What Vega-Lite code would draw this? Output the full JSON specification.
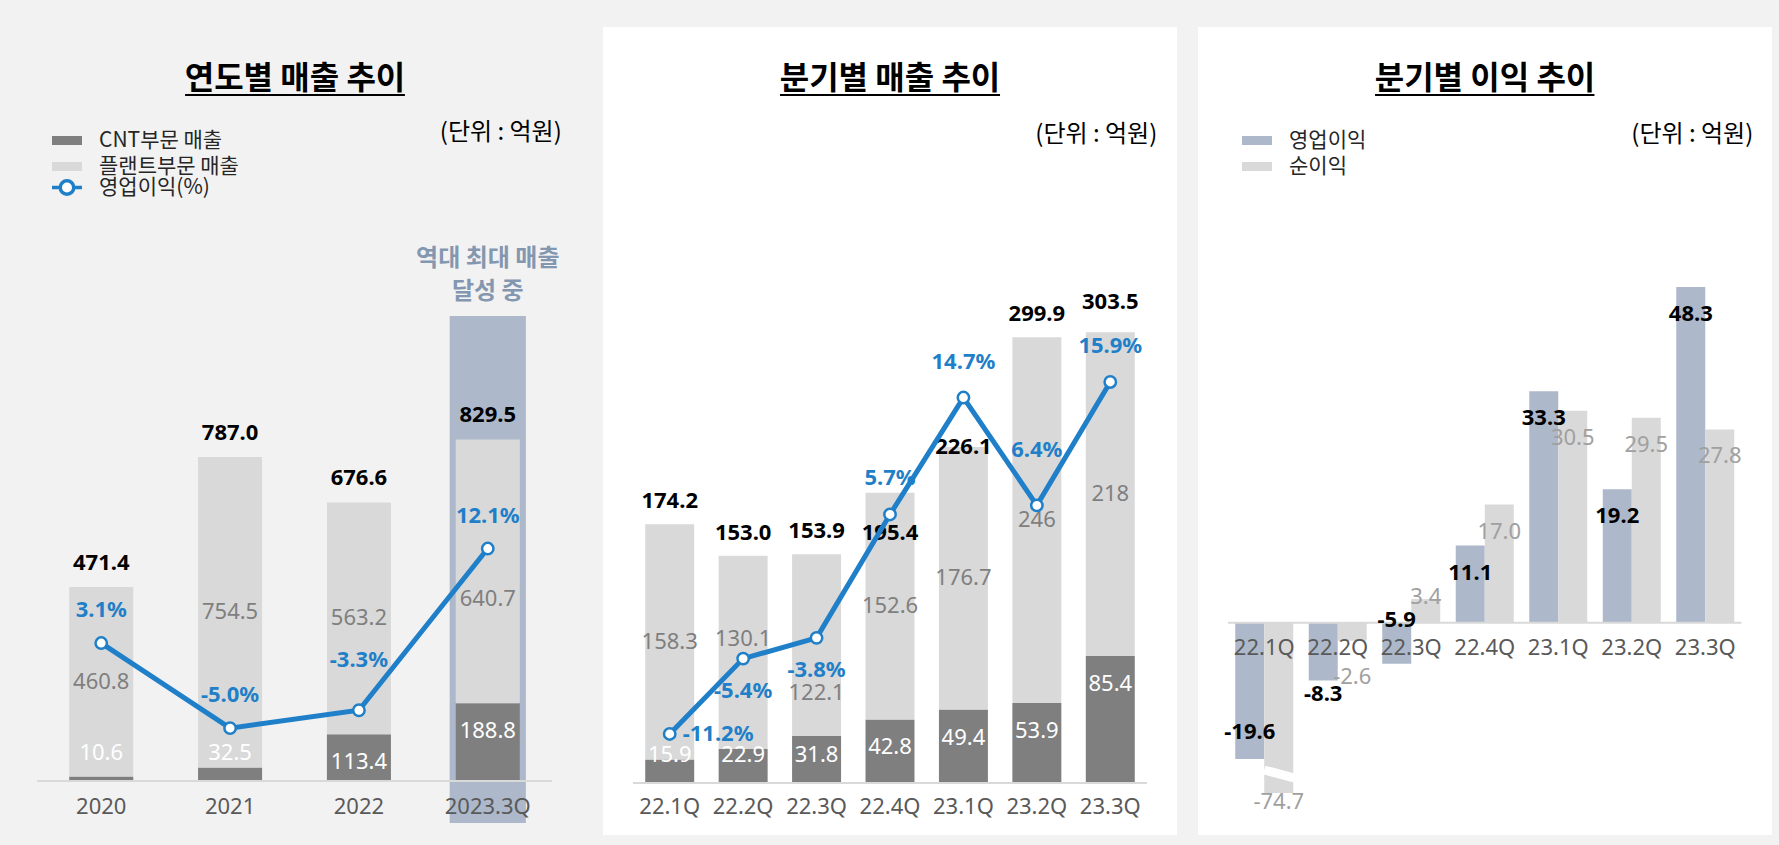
{
"$schema": "https://vega.github.io/schema/vega-lite/v6.json",
"background": "#f2f2f2",
"padding": {"left": 8, "top": 27, "right": 7, "bottom": 10},
"spacing": 21,
"datasets": {
 "annual": [
  {"x":"2020","seg":"CNT부문 매출","v":10.6},{"x":"2020","seg":"플랜트부문 매출","v":460.8},
  {"x":"2021","seg":"CNT부문 매출","v":32.5},{"x":"2021","seg":"플랜트부문 매출","v":754.5},
  {"x":"2022","seg":"CNT부문 매출","v":113.4},{"x":"2022","seg":"플랜트부문 매출","v":563.2},
  {"x":"2023.3Q","seg":"CNT부문 매출","v":188.8},{"x":"2023.3Q","seg":"플랜트부문 매출","v":640.7}
 ],
 "atot": [
  {"x":"2020","total":471.4,"pct":0.031},
  {"x":"2021","total":787.0,"pct":-0.05},
  {"x":"2022","total":676.6,"pct":-0.033},
  {"x":"2023.3Q","total":829.5,"pct":0.121,"note":"역대 최대 매출\n달성 중"}
 ],
 "quarter": [
  {"q":"22.1Q","seg":"CNT부문 매출","v":15.9},{"q":"22.1Q","seg":"플랜트부문 매출","v":158.3},
  {"q":"22.2Q","seg":"CNT부문 매출","v":22.9},{"q":"22.2Q","seg":"플랜트부문 매출","v":130.1},
  {"q":"22.3Q","seg":"CNT부문 매출","v":31.8},{"q":"22.3Q","seg":"플랜트부문 매출","v":122.1},
  {"q":"22.4Q","seg":"CNT부문 매출","v":42.8},{"q":"22.4Q","seg":"플랜트부문 매출","v":152.6},
  {"q":"23.1Q","seg":"CNT부문 매출","v":49.4},{"q":"23.1Q","seg":"플랜트부문 매출","v":176.7},
  {"q":"23.2Q","seg":"CNT부문 매출","v":53.9},{"q":"23.2Q","seg":"플랜트부문 매출","v":246},
  {"q":"23.3Q","seg":"CNT부문 매출","v":85.4},{"q":"23.3Q","seg":"플랜트부문 매출","v":218}
 ],
 "qtot": [
  {"q":"22.1Q","total":174.2,"pct":-0.112},
  {"q":"22.2Q","total":153.0,"pct":-0.054},
  {"q":"22.3Q","total":153.9,"pct":-0.038},
  {"q":"22.4Q","total":195.4,"pct":0.057},
  {"q":"23.1Q","total":226.1,"pct":0.147},
  {"q":"23.2Q","total":299.9,"pct":0.064},
  {"q":"23.3Q","total":303.5,"pct":0.159}
 ],
 "profit": [
  {"q":"22.1Q","type":"영업이익","v":-19.6},{"q":"22.1Q","type":"순이익","v":-74.7},
  {"q":"22.2Q","type":"영업이익","v":-8.3},{"q":"22.2Q","type":"순이익","v":-2.6},
  {"q":"22.3Q","type":"영업이익","v":-5.9},{"q":"22.3Q","type":"순이익","v":3.4},
  {"q":"22.4Q","type":"영업이익","v":11.1},{"q":"22.4Q","type":"순이익","v":17.0},
  {"q":"23.1Q","type":"영업이익","v":33.3},{"q":"23.1Q","type":"순이익","v":30.5},
  {"q":"23.2Q","type":"영업이익","v":19.2},{"q":"23.2Q","type":"순이익","v":29.5},
  {"q":"23.3Q","type":"영업이익","v":48.3},{"q":"23.3Q","type":"순이익","v":27.8}
 ],
 "unit": [{"t":"(단위 : 억원)"}]
},
"hconcat": [
 {
  "width": 574, "height": 808,
  "title": {"text": "연도별 매출 추이"},
  "layer": [
   {"layer": [
    {"data":{"name":"atot"},"transform":[{"filter":"datum.x == '2023.3Q'"}],
     "mark":{"type":"bar","width":{"band":1.19},"color":"#adb9ca"},
     "encoding":{
      "x":{"field":"x","type":"nominal","scale":{"domain":["2020","2021","2022","2023.3Q"],"range":[29,544],"paddingInner":0.503,"paddingOuter":0.25},"axis":null},
      "y":{"datum":1129.5,"type":"quantitative","scale":{"domain":[-131.2,1831.4],"nice":false,"zero":false},"axis":null},
      "y2":{"datum":-102}}},
    {"data":{"name":"annual"},
     "mark":{"type":"bar"},
     "encoding":{
      "x":{"field":"x","type":"nominal","scale":{"domain":["2020","2021","2022","2023.3Q"],"range":[29,544],"paddingInner":0.503,"paddingOuter":0.25},"axis":null},
      "y":{"field":"v","type":"quantitative","stack":"zero","scale":{"domain":[-131.2,1831.4],"nice":false,"zero":false},"axis":null},
      "color":{"field":"seg","type":"nominal","scale":{"domain":["CNT부문 매출","플랜트부문 매출"],"range":["#7f7f7f","#d9d9d9"]},
        "legend":{"orient":"none","legendX":48.5,"legendY":103,"title":null,"symbolType":"M-2,-0.6H2V0.6H-2Z"}},
      "order":{"field":"seg","type":"nominal","sort":"ascending"}}},
    {"data":{"name":"unit"},
     "mark":{"type":"rule","strokeWidth":2,"color":"#d9d9d9","xOffset":-64.2,"x2Offset":64.2},
     "encoding":{
      "x":{"datum":"2020","type":"nominal","scale":{"domain":["2020","2021","2022","2023.3Q"],"range":[29,544],"paddingInner":0.503,"paddingOuter":0.25},"axis":null},
      "x2":{"datum":"2023.3Q"},
      "y":{"datum":0,"type":"quantitative","scale":{"domain":[-131.2,1831.4],"nice":false,"zero":false},"axis":null}}},
    {"data":{"name":"atot"},
     "mark":{"type":"text","fontSize":22,"color":"#595959","baseline":"middle","dy":26},
     "encoding":{
      "x":{"field":"x","type":"nominal","scale":{"domain":["2020","2021","2022","2023.3Q"],"range":[29,544],"paddingInner":0.503,"paddingOuter":0.25},"axis":null},
      "y":{"datum":0,"type":"quantitative","scale":{"domain":[-131.2,1831.4],"nice":false,"zero":false},"axis":null},
      "text":{"field":"x"}}},
    {"data":{"name":"atot"},"transform":[{"filter":"datum.x == '2023.3Q'"}],
     "mark":{"type":"text","fontSize":24,"fontWeight":"bold","color":"#8497b0","lineBreak":"\n","lineHeight":33,"baseline":"middle","font":"Noto Sans CJK KR"},
     "encoding":{
      "x":{"field":"x","type":"nominal","scale":{"domain":["2020","2021","2022","2023.3Q"],"range":[29,544],"paddingInner":0.503,"paddingOuter":0.25},"axis":null},
      "y":{"datum":1268,"type":"quantitative","scale":{"domain":[-131.2,1831.4],"nice":false,"zero":false},"axis":null},
      "text":{"field":"note"}}},
    {"data":{"name":"annual"},
     "mark":{"type":"text","fontSize":22,"color":"#7f7f7f","baseline":"middle"},
     "encoding":{
      "x":{"field":"x","type":"nominal","scale":{"domain":["2020","2021","2022","2023.3Q"],"range":[29,544],"paddingInner":0.503,"paddingOuter":0.25},"axis":null},
      "y":{"field":"v","type":"quantitative","stack":"zero","bandPosition":0.5,"scale":{"domain":[-131.2,1831.4],"nice":false,"zero":false},"axis":null},
      "detail":{"field":"seg"},
      "order":{"field":"seg","type":"nominal","sort":"ascending"},
      "text":{"condition":{"test":"datum.seg != '플랜트부문 매출' || datum.x == '2023.3Q'","value":""},"field":"v","type":"quantitative","format":".1~f"}}},
    {"data":{"name":"annual"},
     "mark":{"type":"text","fontSize":22,"color":"#7f7f7f","baseline":"middle","dy":28},
     "encoding":{
      "x":{"field":"x","type":"nominal","scale":{"domain":["2020","2021","2022","2023.3Q"],"range":[29,544],"paddingInner":0.503,"paddingOuter":0.25},"axis":null},
      "y":{"field":"v","type":"quantitative","stack":"zero","bandPosition":0.5,"scale":{"domain":[-131.2,1831.4],"nice":false,"zero":false},"axis":null},
      "detail":{"field":"seg"},
      "order":{"field":"seg","type":"nominal","sort":"ascending"},
      "text":{"condition":{"test":"!(datum.seg == '플랜트부문 매출' && datum.x == '2023.3Q')","value":""},"field":"v","type":"quantitative","format":".1~f"}}},
    {"data":{"name":"annual"},"transform":[{"filter":"datum.seg == 'CNT부문 매출' && datum.v < 40"}],
     "mark":{"type":"text","fontSize":22,"color":"#ffffff","baseline":"middle","dy":-28},
     "encoding":{
      "x":{"field":"x","type":"nominal","scale":{"domain":["2020","2021","2022","2023.3Q"],"range":[29,544],"paddingInner":0.503,"paddingOuter":0.25},"axis":null},
      "y":{"datum":0,"type":"quantitative","scale":{"domain":[-131.2,1831.4],"nice":false,"zero":false},"axis":null},
      "text":{"field":"v","type":"quantitative","format":".1f"}}},
    {"data":{"name":"annual"},"transform":[{"filter":"datum.seg == 'CNT부문 매출' && datum.v >= 40"}],
     "mark":{"type":"text","fontSize":22,"color":"#ffffff","baseline":"middle","dy":28},
     "encoding":{
      "x":{"field":"x","type":"nominal","scale":{"domain":["2020","2021","2022","2023.3Q"],"range":[29,544],"paddingInner":0.503,"paddingOuter":0.25},"axis":null},
      "y":{"field":"v","type":"quantitative","stack":null,"scale":{"domain":[-131.2,1831.4],"nice":false,"zero":false},"axis":null},
      "text":{"field":"v","type":"quantitative","format":".1f"}}},
    {"data":{"name":"atot"},
     "mark":{"type":"text","fontSize":22,"fontWeight":"bold","color":"#000000","baseline":"middle","dy":-24},
     "encoding":{
      "x":{"field":"x","type":"nominal","scale":{"domain":["2020","2021","2022","2023.3Q"],"range":[29,544],"paddingInner":0.503,"paddingOuter":0.25},"axis":null},
      "y":{"field":"total","type":"quantitative","scale":{"domain":[-131.2,1831.4],"nice":false,"zero":false},"axis":null},
      "text":{"field":"total","type":"quantitative","format":".1f"}}},
    {"data":{"name":"unit"},
     "mark":{"type":"text","fontSize":24,"color":"#000000","baseline":"middle","align":"right","dx":74,"font":"Noto Sans CJK KR"},
     "encoding":{
      "x":{"datum":"2023.3Q","type":"nominal","scale":{"domain":["2020","2021","2022","2023.3Q"],"range":[29,544],"paddingInner":0.503,"paddingOuter":0.25},"axis":null},
      "y":{"datum":1574,"type":"quantitative","scale":{"domain":[-131.2,1831.4],"nice":false,"zero":false},"axis":null},
      "text":{"field":"t"}}},
    {"data":{"name":"unit"},
     "mark":{"type":"rule","strokeWidth":2,"color":"#000000","xOffset":-45,"x2Offset":46},
     "encoding":{
      "x":{"datum":"2021","type":"nominal","scale":{"domain":["2020","2021","2022","2023.3Q"],"range":[29,544],"paddingInner":0.503,"paddingOuter":0.25},"axis":null},
      "x2":{"datum":"2022"},
      "y":{"datum":1666.3,"type":"quantitative","scale":{"domain":[-131.2,1831.4],"nice":false,"zero":false},"axis":null}}}
   ]},
   {"layer": [
    {"data":{"name":"atot"},
     "mark":{"type":"line","strokeWidth":5},
     "encoding":{
      "x":{"field":"x","type":"nominal","scale":{"domain":["2020","2021","2022","2023.3Q"],"range":[29,544],"paddingInner":0.503,"paddingOuter":0.25},"axis":null},
      "y":{"field":"pct","type":"quantitative","scale":{"domain":[-0.1518,0.6177],"nice":false,"zero":false},"axis":null},
      "stroke":{"datum":"영업이익(%)","type":"nominal","scale":{"domain":["영업이익(%)"],"range":["#1f7fc8"]},
        "legend":{"orient":"none","legendX":48.5,"legendY":150,"title":null,"symbolType":"M-2,0L-0.9,0M0.9,0L2,0M-0.9,0A0.9,0.9,0,1,0,0.9,0A0.9,0.9,0,1,0,-0.9,0","symbolStrokeWidth":3.5,"symbolFillColor":"#ffffff"}}}},
    {"data":{"name":"atot"},
     "mark":{"type":"point","shape":"circle","filled":true,"fill":"#ffffff","stroke":"#1f7fc8","strokeWidth":2.5,"size":130,"opacity":1},
     "encoding":{
      "x":{"field":"x","type":"nominal","scale":{"domain":["2020","2021","2022","2023.3Q"],"range":[29,544],"paddingInner":0.503,"paddingOuter":0.25},"axis":null},
      "y":{"field":"pct","type":"quantitative","scale":{"domain":[-0.1518,0.6177],"nice":false,"zero":false},"axis":null}}},
    {"data":{"name":"atot"},"transform":[{"filter":"datum.x != '2022'"}],
     "mark":{"type":"text","fontSize":22,"fontWeight":"bold","color":"#1f7fc8","baseline":"middle","dy":-33},
     "encoding":{
      "x":{"field":"x","type":"nominal","scale":{"domain":["2020","2021","2022","2023.3Q"],"range":[29,544],"paddingInner":0.503,"paddingOuter":0.25},"axis":null},
      "y":{"field":"pct","type":"quantitative","scale":{"domain":[-0.1518,0.6177],"nice":false,"zero":false},"axis":null},
      "text":{"field":"pct","type":"quantitative","format":".1%"}}},
    {"data":{"name":"atot"},"transform":[{"filter":"datum.x == '2022'"}],
     "mark":{"type":"text","fontSize":22,"fontWeight":"bold","color":"#1f7fc8","baseline":"middle","dy":-50},
     "encoding":{
      "x":{"field":"x","type":"nominal","scale":{"domain":["2020","2021","2022","2023.3Q"],"range":[29,544],"paddingInner":0.503,"paddingOuter":0.25},"axis":null},
      "y":{"field":"pct","type":"quantitative","scale":{"domain":[-0.1518,0.6177],"nice":false,"zero":false},"axis":null},
      "text":{"field":"pct","type":"quantitative","format":".1%"}}}
   ]}
  ],
  "resolve": {"scale": {"y": "independent"}}
 },
 {
  "width": 574, "height": 808,
  "view": {"fill": "#ffffff", "stroke": null},
  "title": {"text": "분기별 매출 추이"},
  "layer": [
   {"layer": [
    {"data":{"name":"quarter"},
     "mark":{"type":"bar","color":"#d9d9d9"},
     "encoding":{
      "x":{"field":"q","type":"nominal","scale":{"domain":["22.1Q","22.2Q","22.3Q","22.4Q","23.1Q","23.2Q","23.3Q"],"range":[30,544],"paddingInner":0.333,"paddingOuter":0.1665},"axis":null},
      "y":{"field":"v","type":"quantitative","stack":"zero","scale":{"domain":[-34.99,508.75],"nice":false,"zero":false},"axis":null},
      "color":{"field":"seg","type":"nominal","scale":{"domain":["CNT부문 매출","플랜트부문 매출"],"range":["#7f7f7f","#d9d9d9"]},"legend":null},
      "order":{"field":"seg","type":"nominal","sort":"ascending"}}},
    {"data":{"name":"unit"},
     "mark":{"type":"rule","strokeWidth":2,"color":"#d9d9d9","xOffset":-36.7,"x2Offset":36.7},
     "encoding":{
      "x":{"datum":"22.1Q","type":"nominal","scale":{"domain":["22.1Q","22.2Q","22.3Q","22.4Q","23.1Q","23.2Q","23.3Q"],"range":[30,544],"paddingInner":0.333,"paddingOuter":0.1665},"axis":null},
      "x2":{"datum":"23.3Q"},
      "y":{"datum":0,"type":"quantitative","scale":{"domain":[-34.99,508.75],"nice":false,"zero":false},"axis":null}}},
    {"data":{"name":"qtot"},
     "mark":{"type":"text","fontSize":22,"color":"#595959","baseline":"middle","dy":24},
     "encoding":{
      "x":{"field":"q","type":"nominal","scale":{"domain":["22.1Q","22.2Q","22.3Q","22.4Q","23.1Q","23.2Q","23.3Q"],"range":[30,544],"paddingInner":0.333,"paddingOuter":0.1665},"axis":null},
      "y":{"datum":0,"type":"quantitative","scale":{"domain":[-34.99,508.75],"nice":false,"zero":false},"axis":null},
      "text":{"field":"q"}}},
    {"data":{"name":"quarter"},
     "mark":{"type":"text","fontSize":22,"color":"#7f7f7f","baseline":"middle"},
     "encoding":{
      "x":{"field":"q","type":"nominal","scale":{"domain":["22.1Q","22.2Q","22.3Q","22.4Q","23.1Q","23.2Q","23.3Q"],"range":[30,544],"paddingInner":0.333,"paddingOuter":0.1665},"axis":null},
      "y":{"field":"v","type":"quantitative","stack":"zero","bandPosition":0.5,"scale":{"domain":[-34.99,508.75],"nice":false,"zero":false},"axis":null},
      "detail":{"field":"seg"},
      "order":{"field":"seg","type":"nominal","sort":"ascending"},
      "text":{"condition":{"test":"datum.seg != '플랜트부문 매출' || datum.q == '22.2Q' || datum.q == '22.3Q'","value":""},"field":"v","type":"quantitative","format":".1~f"}}},
    {"data":{"name":"quarter"},
     "mark":{"type":"text","fontSize":22,"color":"#7f7f7f","baseline":"middle","dy":-13},
     "encoding":{
      "x":{"field":"q","type":"nominal","scale":{"domain":["22.1Q","22.2Q","22.3Q","22.4Q","23.1Q","23.2Q","23.3Q"],"range":[30,544],"paddingInner":0.333,"paddingOuter":0.1665},"axis":null},
      "y":{"field":"v","type":"quantitative","stack":"zero","bandPosition":0.5,"scale":{"domain":[-34.99,508.75],"nice":false,"zero":false},"axis":null},
      "detail":{"field":"seg"},
      "order":{"field":"seg","type":"nominal","sort":"ascending"},
      "text":{"condition":{"test":"!(datum.seg == '플랜트부문 매출' && datum.q == '22.2Q')","value":""},"field":"v","type":"quantitative","format":".1~f"}}},
    {"data":{"name":"quarter"},
     "mark":{"type":"text","fontSize":22,"color":"#7f7f7f","baseline":"middle","dy":48},
     "encoding":{
      "x":{"field":"q","type":"nominal","scale":{"domain":["22.1Q","22.2Q","22.3Q","22.4Q","23.1Q","23.2Q","23.3Q"],"range":[30,544],"paddingInner":0.333,"paddingOuter":0.1665},"axis":null},
      "y":{"field":"v","type":"quantitative","stack":"zero","bandPosition":0.5,"scale":{"domain":[-34.99,508.75],"nice":false,"zero":false},"axis":null},
      "detail":{"field":"seg"},
      "order":{"field":"seg","type":"nominal","sort":"ascending"},
      "text":{"condition":{"test":"!(datum.seg == '플랜트부문 매출' && datum.q == '22.3Q')","value":""},"field":"v","type":"quantitative","format":".1~f"}}},
    {"data":{"name":"quarter"},"transform":[{"filter":"datum.seg == 'CNT부문 매출' && datum.v < 40"}],
     "mark":{"type":"text","fontSize":22,"color":"#ffffff","baseline":"middle","dy":-28},
     "encoding":{
      "x":{"field":"q","type":"nominal","scale":{"domain":["22.1Q","22.2Q","22.3Q","22.4Q","23.1Q","23.2Q","23.3Q"],"range":[30,544],"paddingInner":0.333,"paddingOuter":0.1665},"axis":null},
      "y":{"datum":0,"type":"quantitative","scale":{"domain":[-34.99,508.75],"nice":false,"zero":false},"axis":null},
      "text":{"field":"v","type":"quantitative","format":".1f"}}},
    {"data":{"name":"quarter"},"transform":[{"filter":"datum.seg == 'CNT부문 매출' && datum.v >= 40"}],
     "mark":{"type":"text","fontSize":22,"color":"#ffffff","baseline":"middle","dy":28},
     "encoding":{
      "x":{"field":"q","type":"nominal","scale":{"domain":["22.1Q","22.2Q","22.3Q","22.4Q","23.1Q","23.2Q","23.3Q"],"range":[30,544],"paddingInner":0.333,"paddingOuter":0.1665},"axis":null},
      "y":{"field":"v","type":"quantitative","stack":null,"scale":{"domain":[-34.99,508.75],"nice":false,"zero":false},"axis":null},
      "text":{"field":"v","type":"quantitative","format":".1f"}}},
    {"data":{"name":"qtot"},"transform":[{"filter":{"field":"q","oneOf":["22.1Q","22.2Q","22.3Q","23.2Q"]}}],
     "mark":{"type":"text","fontSize":22,"fontWeight":"bold","color":"#000000","baseline":"middle","dy":-23},
     "encoding":{
      "x":{"field":"q","type":"nominal","scale":{"domain":["22.1Q","22.2Q","22.3Q","22.4Q","23.1Q","23.2Q","23.3Q"],"range":[30,544],"paddingInner":0.333,"paddingOuter":0.1665},"axis":null},
      "y":{"field":"total","type":"quantitative","scale":{"domain":[-34.99,508.75],"nice":false,"zero":false},"axis":null},
      "text":{"field":"total","type":"quantitative","format":".1f"}}},
    {"data":{"name":"qtot"},"transform":[{"filter":"datum.q == '23.3Q'"}],
     "mark":{"type":"text","fontSize":22,"fontWeight":"bold","color":"#000000","baseline":"middle","dy":-30},
     "encoding":{
      "x":{"field":"q","type":"nominal","scale":{"domain":["22.1Q","22.2Q","22.3Q","22.4Q","23.1Q","23.2Q","23.3Q"],"range":[30,544],"paddingInner":0.333,"paddingOuter":0.1665},"axis":null},
      "y":{"field":"total","type":"quantitative","scale":{"domain":[-34.99,508.75],"nice":false,"zero":false},"axis":null},
      "text":{"field":"total","type":"quantitative","format":".1f"}}},
    {"data":{"name":"qtot"},"transform":[{"filter":"datum.q == '22.4Q'"}],
     "mark":{"type":"text","fontSize":22,"fontWeight":"bold","color":"#000000","baseline":"middle","dy":40},
     "encoding":{
      "x":{"field":"q","type":"nominal","scale":{"domain":["22.1Q","22.2Q","22.3Q","22.4Q","23.1Q","23.2Q","23.3Q"],"range":[30,544],"paddingInner":0.333,"paddingOuter":0.1665},"axis":null},
      "y":{"field":"total","type":"quantitative","scale":{"domain":[-34.99,508.75],"nice":false,"zero":false},"axis":null},
      "text":{"field":"total","type":"quantitative","format":".1f"}}},
    {"data":{"name":"qtot"},"transform":[{"filter":"datum.q == '23.1Q'"}],
     "mark":{"type":"text","fontSize":22,"fontWeight":"bold","color":"#000000","baseline":"middle","dy":0},
     "encoding":{
      "x":{"field":"q","type":"nominal","scale":{"domain":["22.1Q","22.2Q","22.3Q","22.4Q","23.1Q","23.2Q","23.3Q"],"range":[30,544],"paddingInner":0.333,"paddingOuter":0.1665},"axis":null},
      "y":{"field":"total","type":"quantitative","scale":{"domain":[-34.99,508.75],"nice":false,"zero":false},"axis":null},
      "text":{"field":"total","type":"quantitative","format":".1f"}}},
    {"data":{"name":"unit"},
     "mark":{"type":"text","fontSize":24,"color":"#000000","baseline":"middle","align":"right","dx":47,"font":"Noto Sans CJK KR"},
     "encoding":{
      "x":{"datum":"23.3Q","type":"nominal","scale":{"domain":["22.1Q","22.2Q","22.3Q","22.4Q","23.1Q","23.2Q","23.3Q"],"range":[30,544],"paddingInner":0.333,"paddingOuter":0.1665},"axis":null},
      "y":{"datum":436.1,"type":"quantitative","scale":{"domain":[-34.99,508.75],"nice":false,"zero":false},"axis":null},
      "text":{"field":"t"}}},
    {"data":{"name":"unit"},
     "mark":{"type":"rule","strokeWidth":2,"color":"#000000","xOffset":-36.6,"x2Offset":36.6},
     "encoding":{
      "x":{"datum":"22.3Q","type":"nominal","scale":{"domain":["22.1Q","22.2Q","22.3Q","22.4Q","23.1Q","23.2Q","23.3Q"],"range":[30,544],"paddingInner":0.333,"paddingOuter":0.1665},"axis":null},
      "x2":{"datum":"23.1Q"},
      "y":{"datum":463.0,"type":"quantitative","scale":{"domain":[-34.99,508.75],"nice":false,"zero":false},"axis":null}}}
   ]},
   {"layer": [
    {"data":{"name":"qtot"},
     "mark":{"type":"line","strokeWidth":5,"color":"#1f7fc8"},
     "encoding":{
      "x":{"field":"q","type":"nominal","scale":{"domain":["22.1Q","22.2Q","22.3Q","22.4Q","23.1Q","23.2Q","23.3Q"],"range":[30,544],"paddingInner":0.333,"paddingOuter":0.1665},"axis":null},
      "y":{"field":"pct","type":"quantitative","scale":{"domain":[-0.1898,0.4323],"nice":false,"zero":false},"axis":null}}},
    {"data":{"name":"qtot"},
     "mark":{"type":"point","shape":"circle","filled":true,"fill":"#ffffff","stroke":"#1f7fc8","strokeWidth":2.5,"size":130,"opacity":1},
     "encoding":{
      "x":{"field":"q","type":"nominal","scale":{"domain":["22.1Q","22.2Q","22.3Q","22.4Q","23.1Q","23.2Q","23.3Q"],"range":[30,544],"paddingInner":0.333,"paddingOuter":0.1665},"axis":null},
      "y":{"field":"pct","type":"quantitative","scale":{"domain":[-0.1898,0.4323],"nice":false,"zero":false},"axis":null}}},
    {"data":{"name":"qtot"},"transform":[{"filter":{"field":"q","oneOf":["22.4Q","23.1Q","23.3Q"]}}],
     "mark":{"type":"text","fontSize":22,"fontWeight":"bold","color":"#1f7fc8","baseline":"middle","dy":-36},
     "encoding":{
      "x":{"field":"q","type":"nominal","scale":{"domain":["22.1Q","22.2Q","22.3Q","22.4Q","23.1Q","23.2Q","23.3Q"],"range":[30,544],"paddingInner":0.333,"paddingOuter":0.1665},"axis":null},
      "y":{"field":"pct","type":"quantitative","scale":{"domain":[-0.1898,0.4323],"nice":false,"zero":false},"axis":null},
      "text":{"field":"pct","type":"quantitative","format":".1%"}}},
    {"data":{"name":"qtot"},"transform":[{"filter":"datum.q == '23.2Q'"}],
     "mark":{"type":"text","fontSize":22,"fontWeight":"bold","color":"#1f7fc8","baseline":"middle","dy":-55},
     "encoding":{
      "x":{"field":"q","type":"nominal","scale":{"domain":["22.1Q","22.2Q","22.3Q","22.4Q","23.1Q","23.2Q","23.3Q"],"range":[30,544],"paddingInner":0.333,"paddingOuter":0.1665},"axis":null},
      "y":{"field":"pct","type":"quantitative","scale":{"domain":[-0.1898,0.4323],"nice":false,"zero":false},"axis":null},
      "text":{"field":"pct","type":"quantitative","format":".1%"}}},
    {"data":{"name":"qtot"},"transform":[{"filter":{"field":"q","oneOf":["22.2Q","22.3Q"]}}],
     "mark":{"type":"text","fontSize":22,"fontWeight":"bold","color":"#1f7fc8","baseline":"middle","dy":32},
     "encoding":{
      "x":{"field":"q","type":"nominal","scale":{"domain":["22.1Q","22.2Q","22.3Q","22.4Q","23.1Q","23.2Q","23.3Q"],"range":[30,544],"paddingInner":0.333,"paddingOuter":0.1665},"axis":null},
      "y":{"field":"pct","type":"quantitative","scale":{"domain":[-0.1898,0.4323],"nice":false,"zero":false},"axis":null},
      "text":{"field":"pct","type":"quantitative","format":".1%"}}},
    {"data":{"name":"qtot"},"transform":[{"filter":"datum.q == '22.1Q'"}],
     "mark":{"type":"text","fontSize":22,"fontWeight":"bold","color":"#1f7fc8","baseline":"middle","align":"left","dx":13},
     "encoding":{
      "x":{"field":"q","type":"nominal","scale":{"domain":["22.1Q","22.2Q","22.3Q","22.4Q","23.1Q","23.2Q","23.3Q"],"range":[30,544],"paddingInner":0.333,"paddingOuter":0.1665},"axis":null},
      "y":{"field":"pct","type":"quantitative","scale":{"domain":[-0.1898,0.4323],"nice":false,"zero":false},"axis":null},
      "text":{"field":"pct","type":"quantitative","format":".1%"}}}
   ]}
  ],
  "resolve": {"scale": {"y": "independent"}}
 },
 {
  "width": 574, "height": 808,
  "view": {"fill": "#ffffff", "stroke": null},
  "title": {"text": "분기별 이익 추이"},
  "layer": [
   {"data":{"name":"profit"},
    "mark":{"type":"bar"},
    "encoding":{
     "x":{"field":"q","type":"nominal","scale":{"domain":["22.1Q","22.2Q","22.3Q","22.4Q","23.1Q","23.2Q","23.3Q"],"range":[30,543.5],"paddingInner":0.211,"paddingOuter":0.0985},"axis":null},
     "xOffset":{"field":"type","type":"nominal","scale":{"domain":["영업이익","순이익"],"paddingInner":0,"paddingOuter":0}},
     "y":{"field":"v","type":"quantitative","stack":null,"scale":{"domain":[-24.5,85.71],"range":[766,0],"clamp":true,"nice":false,"zero":false},"axis":null},
     "color":{"field":"type","type":"nominal","scale":{"domain":["영업이익","순이익"],"range":["#adb9ca","#d9d9d9"]},
       "legend":{"orient":"none","legendX":48.5,"legendY":103,"title":null,"symbolType":"M-2,-0.6H2V0.6H-2Z"}}}},
   {"data":{"name":"unit"},
    "mark":{"type":"rule","strokeWidth":9,"color":"#ffffff","xOffset":0,"x2Offset":30},
    "encoding":{
     "x":{"datum":"22.1Q","type":"nominal","scale":{"domain":["22.1Q","22.2Q","22.3Q","22.4Q","23.1Q","23.2Q","23.3Q"],"range":[30,543.5],"paddingInner":0.211,"paddingOuter":0.0985},"axis":null},
     "x2":{"datum":"22.1Q"},
     "y":{"datum":-21.19,"type":"quantitative","scale":{"domain":[-24.5,85.71],"range":[766,0],"clamp":true,"nice":false,"zero":false},"axis":null},
     "y2":{"datum":-22.34}}},
   {"data":{"name":"unit"},
    "mark":{"type":"rule","strokeWidth":2,"color":"#d9d9d9","xOffset":-36.2,"x2Offset":36.3},
    "encoding":{
     "x":{"datum":"22.1Q","type":"nominal","scale":{"domain":["22.1Q","22.2Q","22.3Q","22.4Q","23.1Q","23.2Q","23.3Q"],"range":[30,543.5],"paddingInner":0.211,"paddingOuter":0.0985},"axis":null},
     "x2":{"datum":"23.3Q"},
     "y":{"datum":0,"type":"quantitative","scale":{"domain":[-24.5,85.71],"range":[766,0],"clamp":true,"nice":false,"zero":false},"axis":null}}},
   {"data":{"name":"qtot"},
    "mark":{"type":"text","fontSize":22,"color":"#595959","baseline":"middle","dy":25},
    "encoding":{
     "x":{"field":"q","type":"nominal","scale":{"domain":["22.1Q","22.2Q","22.3Q","22.4Q","23.1Q","23.2Q","23.3Q"],"range":[30,543.5],"paddingInner":0.211,"paddingOuter":0.0985},"axis":null},
     "y":{"datum":0,"type":"quantitative","scale":{"domain":[-24.5,85.71],"range":[766,0],"clamp":true,"nice":false,"zero":false},"axis":null},
     "text":{"field":"q"}}},
   {"data":{"name":"profit"},"transform":[{"filter":"datum.type == '영업이익' && datum.v > 0"}],
    "mark":{"type":"text","fontSize":22,"fontWeight":"bold","color":"#000000","baseline":"middle","dy":27},
    "encoding":{
     "x":{"field":"q","type":"nominal","scale":{"domain":["22.1Q","22.2Q","22.3Q","22.4Q","23.1Q","23.2Q","23.3Q"],"range":[30,543.5],"paddingInner":0.211,"paddingOuter":0.0985},"axis":null},
     "xOffset":{"field":"type","type":"nominal","scale":{"domain":["영업이익","순이익"],"paddingInner":0,"paddingOuter":0}},
     "y":{"field":"v","type":"quantitative","scale":{"domain":[-24.5,85.71],"range":[766,0],"clamp":true,"nice":false,"zero":false},"axis":null},
     "text":{"field":"v","type":"quantitative","format":".1f"}}},
   {"data":{"name":"profit"},"transform":[{"filter":"datum.type == '영업이익' && datum.q == '22.1Q'"}],
    "mark":{"type":"text","fontSize":22,"fontWeight":"bold","color":"#000000","baseline":"middle","dy":-27},
    "encoding":{
     "x":{"field":"q","type":"nominal","scale":{"domain":["22.1Q","22.2Q","22.3Q","22.4Q","23.1Q","23.2Q","23.3Q"],"range":[30,543.5],"paddingInner":0.211,"paddingOuter":0.0985},"axis":null},
     "xOffset":{"field":"type","type":"nominal","scale":{"domain":["영업이익","순이익"],"paddingInner":0,"paddingOuter":0}},
     "y":{"field":"v","type":"quantitative","scale":{"domain":[-24.5,85.71],"range":[766,0],"clamp":true,"nice":false,"zero":false},"axis":null},
     "text":{"field":"v","type":"quantitative","format":".1f"}}},
   {"data":{"name":"profit"},"transform":[{"filter":"datum.type == '영업이익' && datum.q == '22.2Q'"}],
    "mark":{"type":"text","fontSize":22,"fontWeight":"bold","color":"#000000","baseline":"middle","dy":14},
    "encoding":{
     "x":{"field":"q","type":"nominal","scale":{"domain":["22.1Q","22.2Q","22.3Q","22.4Q","23.1Q","23.2Q","23.3Q"],"range":[30,543.5],"paddingInner":0.211,"paddingOuter":0.0985},"axis":null},
     "xOffset":{"field":"type","type":"nominal","scale":{"domain":["영업이익","순이익"],"paddingInner":0,"paddingOuter":0}},
     "y":{"field":"v","type":"quantitative","scale":{"domain":[-24.5,85.71],"range":[766,0],"clamp":true,"nice":false,"zero":false},"axis":null},
     "text":{"field":"v","type":"quantitative","format":".1f"}}},
   {"data":{"name":"profit"},"transform":[{"filter":"datum.type == '영업이익' && datum.q == '22.3Q'"}],
    "mark":{"type":"text","fontSize":22,"fontWeight":"bold","color":"#000000","baseline":"middle","dy":-3},
    "encoding":{
     "x":{"field":"q","type":"nominal","scale":{"domain":["22.1Q","22.2Q","22.3Q","22.4Q","23.1Q","23.2Q","23.3Q"],"range":[30,543.5],"paddingInner":0.211,"paddingOuter":0.0985},"axis":null},
     "xOffset":{"field":"type","type":"nominal","scale":{"domain":["영업이익","순이익"],"paddingInner":0,"paddingOuter":0}},
     "y":{"datum":0,"type":"quantitative","scale":{"domain":[-24.5,85.71],"range":[766,0],"clamp":true,"nice":false,"zero":false},"axis":null},
     "text":{"field":"v","type":"quantitative","format":".1f"}}},
   {"data":{"name":"profit"},"transform":[{"filter":"datum.type == '순이익' && datum.v > 10"}],
    "mark":{"type":"text","fontSize":22,"color":"#a0a0a0","baseline":"middle","dy":27},
    "encoding":{
     "x":{"field":"q","type":"nominal","scale":{"domain":["22.1Q","22.2Q","22.3Q","22.4Q","23.1Q","23.2Q","23.3Q"],"range":[30,543.5],"paddingInner":0.211,"paddingOuter":0.0985},"axis":null},
     "xOffset":{"field":"type","type":"nominal","scale":{"domain":["영업이익","순이익"],"paddingInner":0,"paddingOuter":0}},
     "y":{"field":"v","type":"quantitative","scale":{"domain":[-24.5,85.71],"range":[766,0],"clamp":true,"nice":false,"zero":false},"axis":null},
     "text":{"field":"v","type":"quantitative","format":".1f"}}},
   {"data":{"name":"profit"},"transform":[{"filter":"datum.type == '순이익' && datum.q == '22.3Q'"}],
    "mark":{"type":"text","fontSize":22,"color":"#a0a0a0","baseline":"middle","dy":-2},
    "encoding":{
     "x":{"field":"q","type":"nominal","scale":{"domain":["22.1Q","22.2Q","22.3Q","22.4Q","23.1Q","23.2Q","23.3Q"],"range":[30,543.5],"paddingInner":0.211,"paddingOuter":0.0985},"axis":null},
     "xOffset":{"field":"type","type":"nominal","scale":{"domain":["영업이익","순이익"],"paddingInner":0,"paddingOuter":0}},
     "y":{"field":"v","type":"quantitative","scale":{"domain":[-24.5,85.71],"range":[766,0],"clamp":true,"nice":false,"zero":false},"axis":null},
     "text":{"field":"v","type":"quantitative","format":".1f"}}},
   {"data":{"name":"profit"},"transform":[{"filter":"datum.type == '순이익' && datum.q == '22.2Q'"}],
    "mark":{"type":"text","fontSize":22,"color":"#a0a0a0","baseline":"middle","dy":36},
    "encoding":{
     "x":{"field":"q","type":"nominal","scale":{"domain":["22.1Q","22.2Q","22.3Q","22.4Q","23.1Q","23.2Q","23.3Q"],"range":[30,543.5],"paddingInner":0.211,"paddingOuter":0.0985},"axis":null},
     "xOffset":{"field":"type","type":"nominal","scale":{"domain":["영업이익","순이익"],"paddingInner":0,"paddingOuter":0}},
     "y":{"field":"v","type":"quantitative","scale":{"domain":[-24.5,85.71],"range":[766,0],"clamp":true,"nice":false,"zero":false},"axis":null},
     "text":{"field":"v","type":"quantitative","format":".1f"}}},
   {"data":{"name":"profit"},"transform":[{"filter":"datum.type == '순이익' && datum.q == '22.1Q'"}],
    "mark":{"type":"text","fontSize":22,"color":"#a0a0a0","baseline":"middle","dy":9},
    "encoding":{
     "x":{"field":"q","type":"nominal","scale":{"domain":["22.1Q","22.2Q","22.3Q","22.4Q","23.1Q","23.2Q","23.3Q"],"range":[30,543.5],"paddingInner":0.211,"paddingOuter":0.0985},"axis":null},
     "xOffset":{"field":"type","type":"nominal","scale":{"domain":["영업이익","순이익"],"paddingInner":0,"paddingOuter":0}},
     "y":{"field":"v","type":"quantitative","scale":{"domain":[-24.5,85.71],"range":[766,0],"clamp":true,"nice":false,"zero":false},"axis":null},
     "text":{"field":"v","type":"quantitative","format":".1f"}}},
   {"data":{"name":"unit"},
    "mark":{"type":"text","fontSize":24,"color":"#000000","baseline":"middle","align":"right","dx":48,"font":"Noto Sans CJK KR"},
    "encoding":{
     "x":{"datum":"23.3Q","type":"nominal","scale":{"domain":["22.1Q","22.2Q","22.3Q","22.4Q","23.1Q","23.2Q","23.3Q"],"range":[30,543.5],"paddingInner":0.211,"paddingOuter":0.0985},"axis":null},
     "y":{"datum":70.17,"type":"quantitative","scale":{"domain":[-24.5,85.71],"range":[766,0],"clamp":true,"nice":false,"zero":false},"axis":null},
     "text":{"field":"t"}}},
   {"data":{"name":"unit"},
    "mark":{"type":"rule","strokeWidth":2,"color":"#000000","xOffset":-36.2,"x2Offset":36.2},
    "encoding":{
     "x":{"datum":"22.3Q","type":"nominal","scale":{"domain":["22.1Q","22.2Q","22.3Q","22.4Q","23.1Q","23.2Q","23.3Q"],"range":[30,543.5],"paddingInner":0.211,"paddingOuter":0.0985},"axis":null},
     "x2":{"datum":"23.1Q"},
     "y":{"datum":75.93,"type":"quantitative","scale":{"domain":[-24.5,85.71],"range":[766,0],"clamp":true,"nice":false,"zero":false},"axis":null}}}
  ]
 }
],
"resolve": {"scale": {"color": "independent", "stroke": "independent", "x": "independent", "y": "independent"}, "legend": {"color": "independent"}},
"config": {
 "font": "Noto Sans, Noto Sans CJK KR",
 "view": {"stroke": null},
 "locale": {"number": {"decimal": ".", "thousands": ",", "grouping": [3], "currency": ["", ""], "minus": "-"}},
 "legend": {"labelFont": "Noto Sans CJK KR", "labelFontSize": 21, "labelColor": "#262626", "rowPadding": 4, "padding": 0, "symbolSize": 225, "labelOffset": 21.5, "symbolStrokeWidth": 0},
 "title": {"font": "Noto Sans CJK KR", "fontSize": 32, "fontWeight": "bold", "color": "#000000", "anchor": "middle", "frame": "group", "baseline": "middle", "offset": -69},
 "text": {"font": "Noto Sans, Noto Sans CJK KR"}
}
}
